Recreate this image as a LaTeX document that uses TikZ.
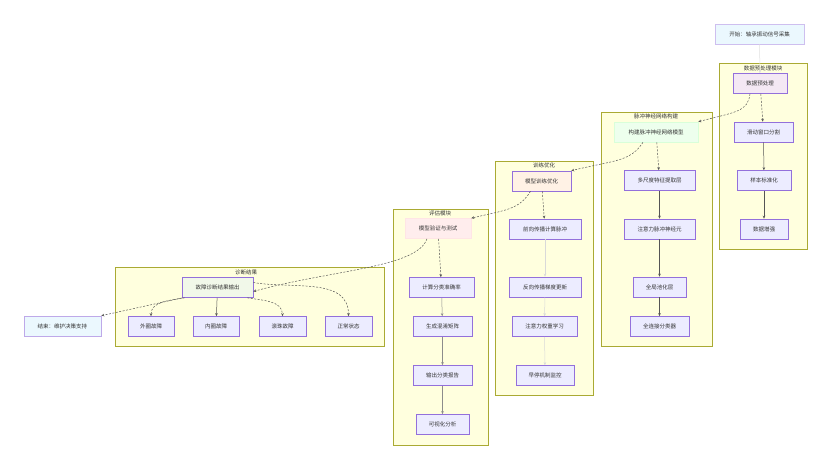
\documentclass[tikz,border=0pt]{standalone}
\usepackage{fontspec}
\usepackage{tikz}
\usetikzlibrary{arrows.meta}
\setmainfont{Noto Sans CJK SC}

\definecolor{grpfill}{HTML}{FFFFDE}
\definecolor{grpline}{HTML}{AAAA33}
\definecolor{boxfill}{HTML}{ECECFF}
\definecolor{boxline}{HTML}{9370DB}
\definecolor{txt}{HTML}{333333}
\definecolor{edge}{HTML}{555555}
\definecolor{diagfill}{HTML}{F1F8E9}

\begin{document}
\begin{tikzpicture}[x=1pt, y=-1pt,
    font=\fontsize{5.5}{6.5}\selectfont, text=txt,
    >={Stealth[length=3pt,width=2.6pt]},
    grp/.style={fill=grpfill, draw=grpline, line width=0.6pt},
    box/.style={fill=boxfill, draw=boxline, line width=0.6pt, minimum height=20pt, inner sep=0pt},
    flow/.style={->, draw=edge, line width=0.5pt},
    dflow/.style={flow, dash pattern=on 2pt off 1.5pt}]
  \useasboundingbox (0,0) rectangle (831,468);
  % groups
  \draw[grp] (719,63) rectangle (807,249);
  \node (tpre) at (763,68) {数据预处理模块};
  \draw[grp] (601,112) rectangle (712,346);
  \node (tsnn) at (656,116) {脉冲神经网络构建};
  \draw[grp] (495,161) rectangle (593,395);
  \node (ttrain) at (544,165) {训练优化};
  \draw[grp] (393,209) rectangle (488,445);
  \node (teval) at (440,213) {评估模块};
  \draw[grp] (115,267) rectangle (384,346);
  \node (tdiag) at (246,272) {诊断结果};
  % start / end
  \node[box, fill=cyan!8, draw=boxline!45, minimum width=89pt] (start) at (759.5,34) {开始：轴承振动信号采集};
  \node[box, fill=cyan!8, draw=boxline!60, minimum width=77pt] (stop) at (62.5,326) {结束：维护决策支持};
  % preprocessing
  \node[box, fill=violet!9, minimum width=54pt] (pre) at (760,83.5) {数据预处理};
  \node[box, minimum width=59pt] (win) at (763.5,132) {滑动窗口分割};
  \node[box, minimum width=54pt] (norm) at (764,180.5) {样本标准化};
  \node[box, minimum width=48pt] (aug) at (764,229) {数据增强};
  % snn
  \node[box, fill=green!7, draw=green!15, minimum width=84pt] (snn) at (656,132) {构建脉冲神经网络模型};
  \node[box, minimum width=71pt] (ms) at (659.5,180.5) {多尺度特征提取层};
  \node[box, minimum width=71pt] (att) at (659.5,229) {注意力脉冲神经元};
  \node[box, minimum width=53pt] (gap) at (659.5,287) {全局池化层};
  \node[box, minimum width=59pt] (fc) at (659.5,326.5) {全连接分类器};
  % training
  \node[box, fill=orange!10, minimum width=59pt] (train) at (541.5,181) {模型训练优化};
  \node[box, minimum width=72pt] (fwd) at (545,229) {前向传播计算脉冲};
  \node[box, minimum width=72pt] (bwd) at (545,287) {反向传播梯度更新};
  \node[box, minimum width=65pt] (attw) at (544.5,326.5) {注意力权重学习};
  \node[box, minimum width=58pt] (early) at (545,375.5) {早停机制监控};
  % evaluation
  \node[box, fill=red!7, draw=red!10, minimum width=66pt] (eval) at (438,228.5) {模型验证与测试};
  \node[box, minimum width=65pt] (acc) at (441.5,287.5) {计算分类准确率};
  \node[box, minimum width=59pt] (cm) at (442.5,326.5) {生成混淆矩阵};
  \node[box, minimum width=59pt] (rep) at (442.5,375.5) {输出分类报告};
  \node[box, minimum width=53pt] (vis) at (442.5,424.5) {可视化分析};
  % diagnosis
  \node[box, fill=diagfill, minimum width=71pt] (diag) at (217.5,287.5) {故障诊断结果输出};
  \node[box, minimum width=46pt] (outer) at (151,326.5) {外圈故障};
  \node[box, minimum width=46pt] (inner) at (216,326.5) {内圈故障};
  \node[box, minimum width=47pt] (ball) at (282.5,326.5) {滚珠故障};
  \node[box, minimum width=47pt] (normal) at (348.5,326.5) {正常状态};
  % edges
  \draw[flow, draw=black!12] (start) -- (pre);
  \draw[dflow] (pre) -- (win);
  \draw[flow] (win) -- (norm);
  \draw[flow] (norm) -- (aug);
  \draw[dflow] ([xshift=-10pt]pre.south) .. controls (748,112) and (735,112) .. (snn.north east);
  \draw[dflow] (snn) -- (ms);
  \draw[flow] (ms) -- (att);
  \draw[flow] (att) -- (gap);
  \draw[flow] (gap) -- (fc);
  \draw[dflow] ([xshift=-13pt]snn.south) .. controls (630,162) and (615,160) .. (train.north east);
  \draw[dflow] (train) -- (fwd);
  \draw[flow, draw=black!15] (fwd) -- (bwd);
  \draw[flow, draw=black!15] (bwd) -- (attw);
  \draw[flow, draw=black!15] (attw) -- (early);
  \draw[dflow] ([xshift=-11pt]train.south) .. controls (519,210) and (505,210) .. (eval.north east);
  \draw[dflow] (eval) -- (acc);
  \draw[flow, draw=black!45] (acc) -- (cm);
  \draw[flow, draw=black!45] (cm) -- (rep);
  \draw[flow, draw=black!45] (rep) -- (vis);
  \draw[dflow] ([xshift=-11pt]eval.south) .. controls (417,268) and (330,270) .. ([yshift=-4pt]diag.east);
  \draw[dflow] ([xshift=1pt]diag.south west) -- (stop.north east);
  \draw[dflow] ([xshift=3pt]diag.south west) to[out=190, in=90] (outer.north);
  \draw[flow] (diag) -- (inner);
  \draw[dflow] ([xshift=-6pt]diag.south east) to[out=-10, in=90] (ball.north);
  \draw[dflow] ([yshift=5pt]diag.east) to[out=-10, in=90] (normal.north);
\end{tikzpicture}
\end{document}
